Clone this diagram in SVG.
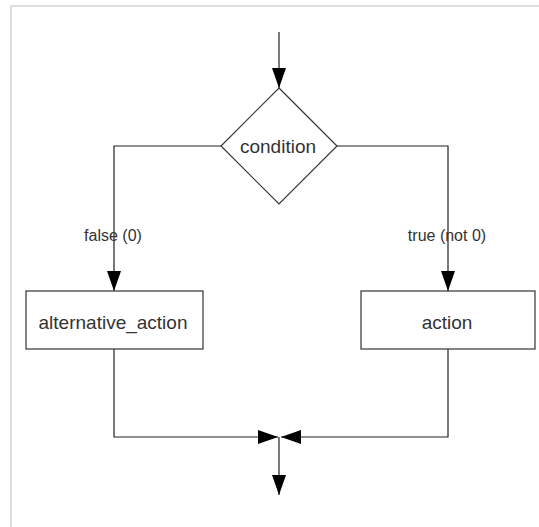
<svg xmlns="http://www.w3.org/2000/svg" width="539" height="527" viewBox="0 0 539 527">
<style>
.frame{stroke:#dedede;stroke-width:2;fill:none}
.shape{fill:#fff;stroke:#333;stroke-width:1.2}
.conn{fill:none;stroke:#222;stroke-width:1.2}
.t{font-family:"Liberation Sans",Arial,sans-serif;fill:#333;text-anchor:middle}
.big{font-size:19px}
.lbl{font-size:16px}
</style>
<defs>
<marker id="ah" markerUnits="userSpaceOnUse" markerWidth="20" markerHeight="14" refX="20" refY="7" orient="auto" viewBox="0 0 20 14">
<path d="M0,0 L20,7 L0,14 z" fill="#000"/>
</marker>
</defs>
<rect width="539" height="527" fill="#fff"/>
<path class="frame" d="M11,527 V6 H539"/>
<g id="connectors">
<path class="conn" d="M279,32 V88" marker-end="url(#ah)"/>
<path class="conn" d="M221,146 H114 V291" marker-end="url(#ah)"/>
<path class="conn" d="M337,146 H448 V291" marker-end="url(#ah)"/>
<path class="conn" d="M114,349 V437 H278" marker-end="url(#ah)"/>
<path class="conn" d="M448,349 V437 H281" marker-end="url(#ah)"/>
<path class="conn" d="M279,437 V495" marker-end="url(#ah)"/>
<text class="t lbl" x="113" y="241">false (0)</text>
<text class="t lbl" x="447" y="241">true (not 0)</text>
</g>
<g id="condition">
<polygon class="shape" points="279,88 337,146 279,204 221,146"/>
<text class="t big" x="278" y="153">condition</text>
</g>
<g id="alternative_action">
<rect class="shape" x="26" y="291" width="177" height="58"/>
<text class="t big" x="113" y="329">alternative_action</text>
</g>
<g id="action">
<rect class="shape" x="361" y="291" width="174" height="58"/>
<text class="t big" x="447" y="329">action</text>
</g>
</svg>
